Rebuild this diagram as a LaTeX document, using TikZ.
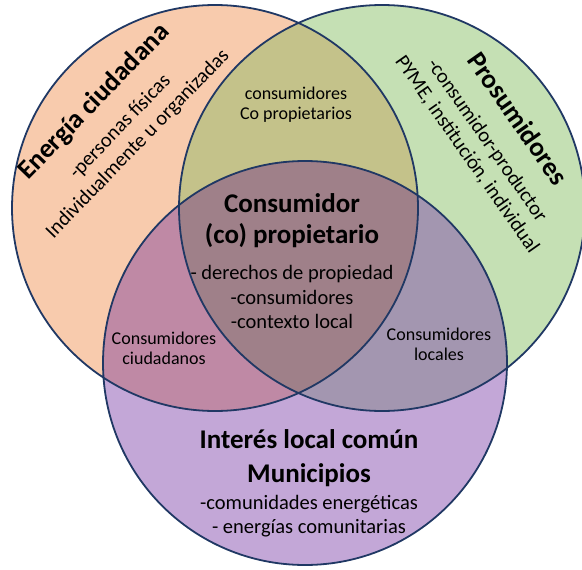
\documentclass[tikz,border=0pt]{standalone}
\usepackage{fontspec}
\setmainfont{Carlito}
\usetikzlibrary{positioning}

\definecolor{vennline}{RGB}{32,56,100}
\definecolor{energiafill}{HTML}{F8CBAD}
\definecolor{prosumofill}{HTML}{C5E0B4}
\definecolor{interesfill}{HTML}{C3A7D7}
\definecolor{copropfill}{HTML}{C4C28A}
\definecolor{ciudadfill}{HTML}{BF89A5}
\definecolor{localfill}{HTML}{A396B0}
\definecolor{centrofill}{HTML}{9F8089}

\begin{document}
\begin{tikzpicture}[x=1pt,y=-1pt,
	venntitle/.style={font=\fontsize{27}{31}\selectfont\bfseries, align=center, inner sep=0pt},
	venndetail/.style={font=\fontsize{20.5}{24.5}\selectfont, align=center, inner sep=0pt},
	vennsmall/.style={font=\fontsize{18}{20}\selectfont, align=center, inner sep=0pt}]

	\useasboundingbox (0,0) rectangle (582,570);

	% circle centres
	\coordinate (energia) at (215,208);
	\coordinate (prosumo) at (382,208);
	\coordinate (interes) at (305,363);

	% regions
	\fill[energiafill] (energia) circle (203);
	\fill[prosumofill] (prosumo) circle (203);
	\fill[interesfill] (interes) circle (202);
	\begin{scope}
		\clip (energia) circle (203);
		\fill[copropfill] (prosumo) circle (203);
		\fill[ciudadfill] (interes) circle (202);
	\end{scope}
	\begin{scope}
		\clip (prosumo) circle (203);
		\fill[localfill] (interes) circle (202);
		\clip (energia) circle (203);
		\fill[centrofill] (interes) circle (202);
	\end{scope}
	\draw[vennline, line width=1.8pt] (energia) circle (203) (prosumo) circle (203) (interes) circle (202);

	% texts
	\node[venndetail, rotate=46] (energiatxt) at (115,122)
		{{\fontsize{27}{31}\selectfont\bfseries Energía ciudadana}\\[10pt] -personas físicas\\ Individualmente u organizadas};
	\node[venndetail, rotate=-55] (prosumotxt) at (493,136)
		{{\fontsize{27}{31}\selectfont\bfseries Prosumidores}\\[10pt] -consumidor-productor\\ PYME, institución, individual};

	\node[vennsmall] (coprop) at (296,105) {consumidores\\Co propietarios};
	\node[vennsmall] (ciudad) at (164,348) {Consumidores\\ciudadanos};
	\node[vennsmall] (locales) at (439,344) {Consumidores\\locales};

	\node[venntitle] (centro) at (292,221) {Consumidor\\(co) propietario};
	\node[venndetail] (centrodet) [below=17pt of centro] {- derechos de propiedad\\-consumidores\\-contexto local};

	\node[venntitle] (comun) at (309,458) {Interés local común\\[3pt]Municipios};
	\node[venndetail] (comundet) [below=8pt of comun] {-comunidades energéticas\\- energías comunitarias};

\end{tikzpicture}
\end{document}
